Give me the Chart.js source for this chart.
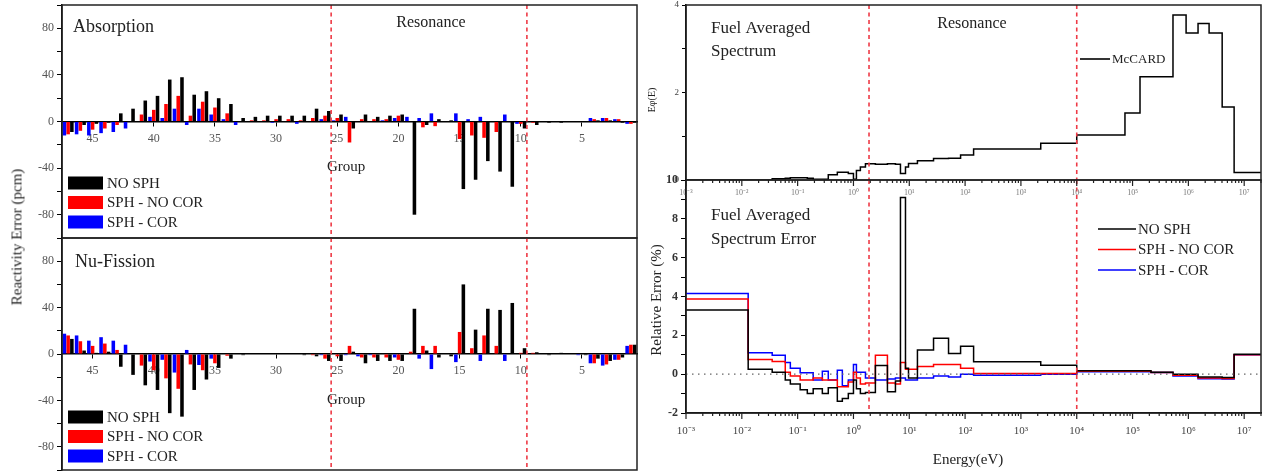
<!DOCTYPE html>
<html>
<head>
<meta charset="utf-8">
<title>SPH reactivity error and fuel spectrum</title>
<script src="https://cdn.jsdelivr.net/npm/chart.js@4.4.1/dist/chart.umd.min.js"></script>
<style>
  html, body { margin: 0; padding: 0; background: #fff; }
  #fig { position: relative; width: 1264px; height: 473px; overflow: hidden; font-family: "Liberation Serif", "Times New Roman", serif; }
  #fig canvas { position: absolute; }
  #ytitle { position: absolute; left: 17px; top: 237px; transform: translate(-50%, -50%) rotate(-90deg); font-size: 15px; color: #222; white-space: nowrap; }
</style>
</head>
<body>
<div id="fig">
  <canvas id="absChart" width="640" height="240" style="left:0;top:0"></canvas>
  <canvas id="nufChart" width="640" height="240" style="left:0;top:233px"></canvas>
  <canvas id="specChart" width="624" height="182" style="left:640px;top:0"></canvas>
  <canvas id="errChart" width="624" height="298" style="left:640px;top:175px"></canvas>
  <div id="ytitle">Reactivity Error (pcm)</div>
</div>
<script>
// ---- left panels: reactivity error per energy group (pcm) ----
const groups = [47,46,45,44,43,42,41,40,39,38,37,36,35,34,33,32,31,30,29,28,27,26,25,24,
                23,22,21,20,19,18,17,16,15,14,13,12,11,10,9,8,7,6,5,4,3,2,1];

const absNoSph    = [-9,-3,-2,-1,7,11,18,22,36,38,23,26,20,15,3,4,5,5,5,5,11,9,6,-6,
                     6,4,5,6,-80,-3,2,1,-58,-50,-34,-43,-56,-6,-3,-1,-1,0,0,1,1,-1,-1];
const absSphNoCor = [-11,-8,-7,-6,-3,0,6,10,15,22,5,17,12,7,0,1,1,2,2,1,3,5,3,-18,
                     2,2,2,5,0,-5,-4,0,-15,-12,-14,-9,0,-2,-1,0,0,0,0,2,3,2,-2];
const absSphCor   = [-12,-11,-12,-10,-9,-6,0,4,3,11,-3,11,6,2,-3,0,0,-1,0,-2,0,2,1,4,
                     0,0,1,3,4,3,7,0,7,2,4,0,6,-2,0,0,0,0,0,3,3,2,-2];

const nufNoSph    = [13,3,1,2,-11,-18,-27,-31,-51,-54,-31,-22,-12,-4,-1,0,0,0,0,-1,-2,-6,-6,2,
                     -8,-6,-6,-6,39,3,-3,-2,60,21,39,38,44,5,1.5,-1,1,0,-1,-4,-6,-3,8];
const nufSphNoCor = [16,11,7,9,3.5,0,-10,-14,-21,-30,-9,-14,-8,-1.5,0,0,0,0,0,0,-1,-4,-2,7,
                     -3,-3,-3,-5,2,7,7,0,19,5,16,7,0,1,1,0,0,0,0,-8,-9,-5,8];
const nufSphCor   = [17.5,16,11.5,14.5,11.5,8,0,-6.5,-5,-16,3.5,-9.5,-4,0,0,0,0,0,0,0,0,-1,0,-1,
                     -2,-1,0,-3,0,-4,-13,0,-7,0,-6,0,-6,0,0,0,0,0,-1,-8,-10,-5,7];

const resonanceGroupEdges = [25.5, 9.5];

// ---- right panels: fuel averaged spectrum and its relative error ----
const energyEdges = [1e-3,0.013,0.035,0.06,0.074,0.111,0.149,0.19,0.277,0.354,0.514,0.632,0.809,
                     1.0,1.13,1.33,1.64,2.47,4.06,5.65,6.95,8.55,9.68,14.0,27.2,50.5,83,142,2265,
                     1.0e4,7.31e4,1.36e5,2.14e5,5.3e5,9.1e5,1.49e6,2.35e6,4.03e6,6.6e6,2.0e7];
const spectrum    = [0,0,0.03,0.04,0.05,0.05,0.04,0.02,0.02,0.12,0.18,0.18,0.15,0.02,0.22,0.3,
                     0.37,0.36,0.37,0.36,0.15,0.3,0.38,0.44,0.49,0.5,0.57,0.71,0.84,1.03,1.53,
                     2.36,2.36,3.77,3.36,3.58,3.36,1.67,0.17];
const errNoSph    = [3.3,0.25,0.1,-0.3,-0.5,-0.8,-1.0,-0.75,-1.0,-0.7,-1.4,-1.25,-1.0,-0.3,-0.75,
                     -1.0,-0.95,0.45,-0.9,-0.35,9.1,0.3,-0.2,1.24,1.85,1.07,1.44,0.64,0.46,0.17,
                     0.17,0.17,0.1,0.0,0.0,-0.14,-0.14,-0.17,1.03];
const errSphNoCor = [3.87,0.76,0.65,0.1,-0.1,-0.3,-0.3,-0.2,-0.3,-0.3,-0.65,-0.65,-0.4,0.1,-0.2,
                     -0.5,-0.45,0.97,-0.45,-0.5,0.6,0.25,0.25,0.4,0.5,0.5,0.3,0.03,0.03,0.15,
                     0.15,0.15,0.08,-0.05,-0.05,-0.2,-0.2,-0.22,1.0];
const errSphCor   = [4.16,1.1,0.97,0.6,0.3,0.07,0.07,-0.3,0.15,-0.3,0.2,-0.6,-0.3,0.5,0.1,0.1,
                     -0.2,-0.3,-0.25,-0.2,-0.2,-0.3,-0.3,-0.2,-0.1,-0.15,0.0,-0.06,0.0,0.13,
                     0.13,0.13,0.08,-0.1,-0.1,-0.23,-0.23,-0.25,1.0];

const resonanceEnergies = [1.9, 1.0e4];
const energyDecades = [-3,-2,-1,0,1,2,3,4,5,6,7];

const serif = '"Liberation Serif", "Times New Roman", serif';
const SUP = { '-': '\u207B', '0': '\u2070', '1': '\u00B9', '2': '\u00B2', '3': '\u00B3',
              '4': '\u2074', '5': '\u2075', '6': '\u2076', '7': '\u2077', '8': '\u2078', '9': '\u2079' };

function isDecade(v) {
  const l = Math.log10(v);
  return Math.abs(l - Math.round(l)) < 1e-6;
}
function decadeLabel(v) {
  return '10' + String(Math.round(Math.log10(v))).split('').map(c => SUP[c]).join('');
}

// stepped line: each value holds from its edge to the next edge
function stepPoints(vals) {
  return energyEdges.map((e, i) => ({ x: e, y: vals[Math.min(i, vals.length - 1)] }));
}

// keep the plot box where the layout padding puts it (no extra room for edge labels)
function noScalePad(s) {
  s.paddingTop = 0; s.paddingBottom = 0; s.paddingLeft = 0; s.paddingRight = 0;
}

// frame, resonance markers, labels and in-plot legend
function makeDecor(conf) {
  return {
    id: 'decor',
    afterDatasetsDraw(chart) {
      const { ctx, chartArea: a, scales } = chart;
      ctx.save();
      if (conf.zeroLine) {
        const y = scales.y.getPixelForValue(0);
        ctx.strokeStyle = '#666'; ctx.lineWidth = 1.3; ctx.setLineDash([1.5, 4.5]);
        ctx.beginPath(); ctx.moveTo(a.left, y); ctx.lineTo(a.right, y); ctx.stroke();
      }
      ctx.strokeStyle = '#ee3a46'; ctx.lineWidth = 1.6; ctx.setLineDash([4, 3.5]);
      conf.bounds.forEach(v => {
        const x = scales.x.getPixelForValue(v);
        ctx.beginPath(); ctx.moveTo(x, a.top); ctx.lineTo(x, a.bottom); ctx.stroke();
      });
      ctx.setLineDash([]);

      if (conf.logTicks) {
        const sx = scales.x;
        ctx.strokeStyle = '#222'; ctx.lineWidth = 1.2;
        ctx.fillStyle = '#777'; ctx.font = '8px ' + serif;
        ctx.textAlign = 'center'; ctx.textBaseline = 'middle';
        sx.ticks.forEach(t => {
          const x = sx.getPixelForValue(t.value);
          if (x < a.left - 0.5 || x > a.right + 0.5) return;
          const len = isDecade(t.value) ? 6 : 3;
          ctx.beginPath();
          ctx.moveTo(x, a.bottom); ctx.lineTo(x, a.bottom + len);
          ctx.moveTo(x, a.top); ctx.lineTo(x, a.top + len);
          ctx.stroke();
          if (isDecade(t.value)) ctx.fillText(decadeLabel(t.value), x, a.top + 13);
        });
      }

      ctx.strokeStyle = '#222'; ctx.lineWidth = 1.5;
      ctx.strokeRect(a.left, a.top, a.width, a.height);

      ctx.fillStyle = '#222'; ctx.textBaseline = 'middle';
      conf.texts.forEach(t => {
        ctx.font = t.size + 'px ' + serif;
        if (t.rotate) {
          ctx.save(); ctx.translate(t.x, t.y); ctx.rotate(-Math.PI / 2);
          ctx.textAlign = 'center'; ctx.fillText(t.text, 0, 0); ctx.restore();
        } else {
          ctx.textAlign = t.align || 'left';
          ctx.fillText(t.text, t.x, t.y);
        }
      });

      const lg = conf.legend;
      if (lg) {
        ctx.font = lg.size + 'px ' + serif; ctx.textAlign = 'left';
        lg.order.forEach((di, k) => {
          const ds = chart.data.datasets[di];
          const y = lg.y + k * lg.dy;
          if (lg.type === 'box') {
            ctx.fillStyle = ds.backgroundColor;
            ctx.fillRect(lg.x, y - 6.5, 35, 13);
            ctx.fillStyle = '#222';
            ctx.fillText(ds.label, lg.x + 39, y + 1);
          } else {
            ctx.strokeStyle = ds.borderColor; ctx.lineWidth = 1.6;
            ctx.beginPath(); ctx.moveTo(lg.x, y); ctx.lineTo(lg.x + lg.len, y); ctx.stroke();
            ctx.fillStyle = '#222';
            ctx.fillText(ds.label, lg.x + lg.len + 2, y + 1);
          }
        });
      }
      ctx.restore();
    }
  };
}

function barPanel(canvasId, noSph, sphNoCor, sphCor, conf) {
  conf.bounds = resonanceGroupEdges.map(g => groups.indexOf(Math.ceil(g)) + 0.5);
  return new Chart(document.getElementById(canvasId), {
    type: 'bar',
    data: {
      labels: groups,
      datasets: [
        { label: 'SPH - COR', data: sphCor, backgroundColor: '#0000ff' },
        { label: 'SPH - NO COR', data: sphNoCor, backgroundColor: '#ff0000' },
        { label: 'NO SPH', data: noSph, backgroundColor: '#000000' }
      ]
    },
    options: {
      responsive: false,
      animation: false,
      layout: { padding: conf.padding },
      datasets: { bar: { categoryPercentage: 0.92, barPercentage: 0.95 } },
      plugins: { legend: { display: false }, tooltip: { enabled: false } },
      scales: {
        x: {
          type: 'category',
          position: { y: 0 },
          offset: true,
          afterFit: noScalePad,
          grid: {
            drawOnChartArea: false, offset: false, tickLength: 4,
            color: ctx => groups[ctx.index] % 5 === 0 ? '#000' : 'rgba(0,0,0,0)'
          },
          border: { color: '#000', width: 1.5 },
          ticks: {
            autoSkip: false, maxRotation: 0, padding: 6, color: '#555',
            font: { family: serif, size: 12 },
            callback: (v, i) => groups[i] % 5 === 0 ? String(groups[i]) : ''
          }
        },
        y: {
          min: -100, max: 100,
          afterFit: s => { s.width = 62; noScalePad(s); },
          grid: { drawOnChartArea: false, tickLength: 5, color: '#000' },
          border: { color: '#000', width: 1.5 },
          ticks: {
            stepSize: 20, padding: 3, color: '#555',
            font: { family: serif, size: 12 },
            callback: v => v % 40 === 0 ? v : ''
          }
        }
      }
    },
    plugins: [makeDecor(conf)]
  });
}

barPanel('absChart', absNoSph, absSphNoCor, absSphCor, {
  padding: { left: 0, right: 3, top: 5, bottom: 2 },
  texts: [
    { text: 'Absorption', x: 73, y: 27, size: 18 },
    { text: 'Resonance', x: 431, y: 23, size: 16, align: 'center' },
    { text: 'Group', x: 327, y: 167, size: 15 }
  ],
  legend: { type: 'box', x: 68, y: 183, dy: 19.5, size: 15, order: [2, 1, 0] }
});

barPanel('nufChart', nufNoSph, nufSphNoCor, nufSphCor, {
  padding: { left: 0, right: 3, top: 5, bottom: 3 },
  texts: [
    { text: 'Nu-Fission', x: 75, y: 29, size: 18 },
    { text: 'Group', x: 327, y: 167, size: 15 }
  ],
  legend: { type: 'box', x: 68, y: 184, dy: 19.5, size: 15, order: [2, 1, 0] }
});

// tick values 1..9 x 10^n for the log energy axis
const logTickValues = [];
energyDecades.forEach(d => {
  for (let m = 1; m <= 9; m++) {
    const v = m * Math.pow(10, d);
    if (v <= energyEdges[energyEdges.length - 1]) logTickValues.push(v);
  }
});

function energyAxis(extra) {
  return Object.assign({
    type: 'logarithmic',
    min: energyEdges[0],
    max: energyEdges[energyEdges.length - 1],
    afterBuildTicks: s => { s.ticks = logTickValues.map(v => ({ value: v })); }
  }, extra);
}

new Chart(document.getElementById('specChart'), {
  type: 'line',
  data: {
    datasets: [
      { label: 'McCARD', data: stepPoints(spectrum), stepped: true, borderColor: '#000',
        borderWidth: 1.5, pointRadius: 0, fill: false }
    ]
  },
  options: {
    responsive: false,
    animation: false,
    layout: { padding: { left: 0, right: 3, top: 5, bottom: 2 } },
    plugins: { legend: { display: false }, tooltip: { enabled: false } },
    scales: {
      x: energyAxis({ display: false }),
      y: {
        min: 0, max: 4,
        afterFit: s => { s.width = 46; noScalePad(s); },
        grid: { drawOnChartArea: false, tickLength: 4, color: '#000' },
        border: { color: '#000', width: 1.5 },
        ticks: {
          stepSize: 1, padding: 3, color: '#444',
          font: { family: serif, size: 9 },
          callback: v => v % 2 === 0 ? v : ''
        }
      }
    }
  },
  plugins: [makeDecor({
    bounds: resonanceEnergies,
    texts: [
      { text: 'Fuel Averaged', x: 71, y: 29, size: 17 },
      { text: 'Spectrum', x: 71, y: 52, size: 17 },
      { text: 'Resonance', x: 332, y: 24, size: 16, align: 'center' },
      { text: 'E\u03C6(E)', x: 12, y: 100, size: 10, rotate: true }
    ],
    legend: { type: 'line', x: 440, y: 59, dy: 0, len: 30, size: 13, order: [0] }
  })]
});

new Chart(document.getElementById('errChart'), {
  type: 'line',
  data: {
    datasets: [
      { label: 'NO SPH', data: stepPoints(errNoSph), stepped: true, borderColor: '#000000',
        borderWidth: 1.5, pointRadius: 0, fill: false },
      { label: 'SPH - NO COR', data: stepPoints(errSphNoCor), stepped: true, borderColor: '#ff0000',
        borderWidth: 1.5, pointRadius: 0, fill: false },
      { label: 'SPH - COR', data: stepPoints(errSphCor), stepped: true, borderColor: '#0000ff',
        borderWidth: 1.5, pointRadius: 0, fill: false }
    ]
  },
  options: {
    responsive: false,
    animation: false,
    layout: { padding: { left: 0, right: 3, top: 5, bottom: 0 } },
    plugins: { legend: { display: false }, tooltip: { enabled: false } },
    scales: {
      x: energyAxis({
        position: 'bottom',
        afterFit: s => { s.height = 60; noScalePad(s); },
        grid: { display: false },
        border: { display: true, color: '#000', width: 1.5 },
        ticks: {
          autoSkip: false, maxRotation: 0, padding: 4, color: '#444',
          font: { family: serif, size: 11 },
          callback: v => isDecade(v) ? decadeLabel(v) : ''
        }
      }),
      y: {
        min: -2, max: 10,
        afterFit: s => { s.width = 46; noScalePad(s); },
        grid: { drawOnChartArea: false, tickLength: 5, color: '#000' },
        border: { color: '#000', width: 1.5 },
        ticks: {
          stepSize: 1, padding: 3, color: '#333',
          font: { family: serif, size: 12, weight: 'bold' },
          callback: v => v % 2 === 0 ? v : ''
        }
      }
    }
  },
  plugins: [makeDecor({
    bounds: resonanceEnergies,
    zeroLine: true,
    logTicks: true,
    texts: [
      { text: 'Fuel Averaged', x: 71, y: 41, size: 17 },
      { text: 'Spectrum Error', x: 71, y: 65, size: 17 },
      { text: 'Energy(eV)', x: 328, y: 285, size: 15, align: 'center' },
      { text: 'Relative Error (%)', x: 17, y: 125, size: 15, rotate: true }
    ],
    legend: { type: 'line', x: 458, y: 54, dy: 20.5, len: 38, size: 15, order: [0, 1, 2] }
  })]
});
</script>
</body>
</html>
